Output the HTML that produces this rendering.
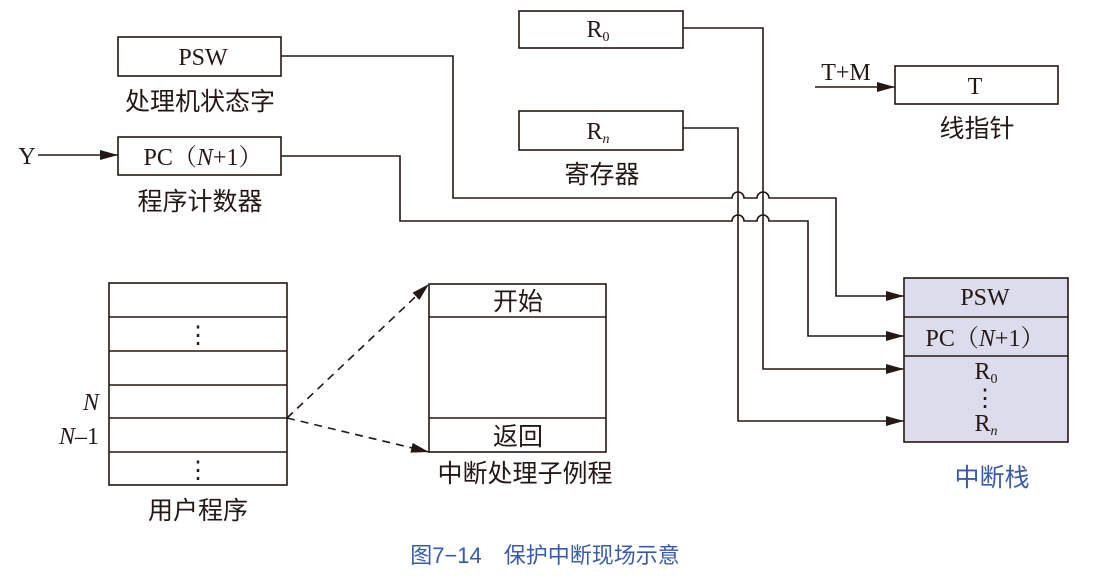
<!DOCTYPE html>
<html><head><meta charset="utf-8"><style>
html,body{margin:0;padding:0;background:#fff;}
svg{display:block;}
text{font-family:"Liberation Serif","Noto Serif CJK SC",serif;fill:#231815;}
.cn{font-family:"Liberation Sans","Noto Sans CJK SC",sans-serif;}
</style></head><body>
<svg width="1101" height="581" viewBox="0 0 1101 581" xmlns="http://www.w3.org/2000/svg">
<defs><marker id="a" markerWidth="18" markerHeight="10" refX="18" refY="5" orient="auto" markerUnits="userSpaceOnUse"><path d="M0,0 L18,5 L0,10 Z" fill="#231815"/></marker></defs>
<g fill="none" stroke="#231815" stroke-width="1.6">
<rect x="118" y="37" width="163" height="39"/>
<rect x="118" y="137" width="163" height="38"/>
<rect x="519" y="11" width="164" height="37"/>
<rect x="519" y="111" width="164" height="39"/>
<rect x="895" y="66" width="163" height="38"/>
<rect x="109" y="283" width="178" height="202"/>
<path d="M109 317H287M109 351H287M109 385H287M109 418H287M109 452H287"/>
<rect x="429" y="284" width="177" height="168"/>
<path d="M429 317H606M429 418H606"/>
<rect x="904" y="278" width="164" height="164" fill="#dcdcec"/>
<path d="M904 317H1068M904 356H1068"/>
<path d="M38 155H118" marker-end="url(#a)"/>
<path d="M815 87H895" marker-end="url(#a)"/>
<path d="M281 56H453V198H732A6 6 0 0 1 744 198H757A6 6 0 0 1 769 198H836V296H904" marker-end="url(#a)"/>
<path d="M281 156H400V221H732A6 6 0 0 1 744 221H757A6 6 0 0 1 769 221H808V336H904" marker-end="url(#a)"/>
<path d="M683 28H763V369H904" marker-end="url(#a)"/>
<path d="M683 128H738V421H904" marker-end="url(#a)"/>
<path d="M287 418L429 284" stroke-dasharray="8,6" marker-end="url(#a)"/>
<path d="M287 418L429 452" stroke-dasharray="8,6" marker-end="url(#a)"/>
</g>
<g font-size="24" text-anchor="middle">
<text x="203" y="65">PSW</text>
<text x="203" y="165">PC（<tspan font-style="italic">N</tspan>+1）</text>
<text x="598" y="37">R<tspan font-size="14" dy="4">0</tspan></text>
<text x="598" y="139">R<tspan font-size="14" dy="4" font-style="italic">n</tspan></text>
<text x="975" y="94">T</text>
<text x="846" y="80">T+M</text>
<text x="27" y="164">Y</text>
<text x="985" y="305">PSW</text>
<text x="985" y="346">PC（<tspan font-style="italic">N</tspan>+1）</text>
<text x="986" y="379">R<tspan font-size="14" dy="4">0</tspan></text>
<text x="986" y="431">R<tspan font-size="14" dy="4" font-style="italic">n</tspan></text>
<text x="985" y="406">⋮</text>
<text x="198" y="343">⋮</text>
<text x="198" y="478">⋮</text>
<text x="91" y="410" font-style="italic">N</text>
<text x="79" y="444"><tspan font-style="italic">N</tspan>–1</text>
</g>
<g font-size="25" text-anchor="middle">
<text class="cn" x="200" y="110">处理机状态字</text>
<text class="cn" x="200" y="210">程序计数器</text>
<text class="cn" x="602" y="183">寄存器</text>
<text class="cn" x="977" y="137">线指针</text>
<text class="cn" x="518" y="310">开始</text>
<text class="cn" x="518" y="445">返回</text>
<text class="cn" x="525" y="482">中断处理子例程</text>
<text class="cn" x="198" y="519">用户程序</text>
<text class="cn" x="992" y="486" style="fill:#3b5ba5">中断栈</text>
<text class="cn" x="545" y="563" font-size="22" style="fill:#3b5ba5">图7−14　保护中断现场示意</text>
</g>
</svg>
</body></html>
